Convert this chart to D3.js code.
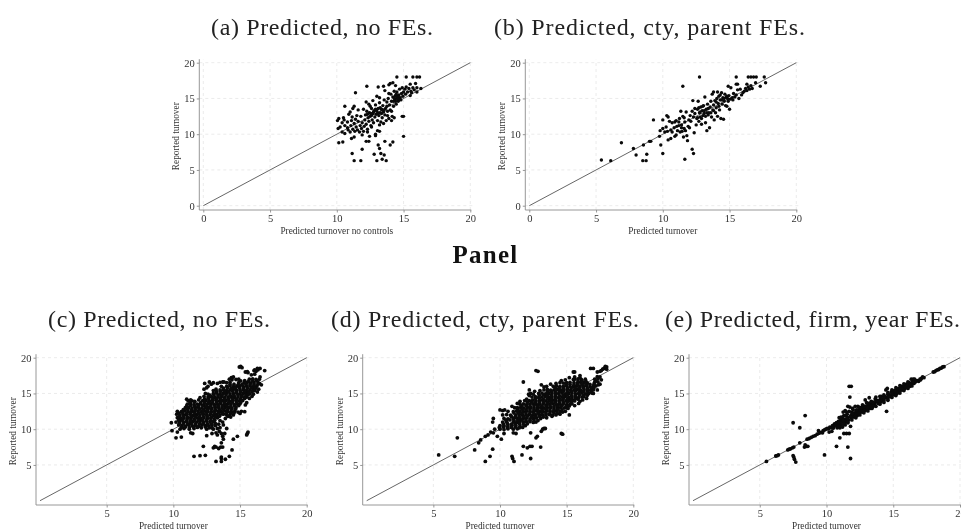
<!DOCTYPE html>
<html>
<head>
<meta charset="utf-8">
<script src="https://cdn.jsdelivr.net/npm/d3@7"></script>
<style>
  html, body { margin: 0; padding: 0; background: #fff; }
  svg { display: block; }
  text { font-family: "Liberation Serif", serif; }
</style>
</head>
<body>
<div id="chart"></div>
<script>
const width = 961, height = 530

// values, [predicted, reported]
const pointsA = [
  [11.3,6.3],[11.8,6.3],[13,6.3],[13.4,6.5],[13.7,6.3],[11.15,7.3],[11.9,7.9],[12.8,7.2],[13.3,7.3],[13.55,7.1],
  [13.1,8.5],[13.2,8],[14,8.5],[14.2,8.9],[13.6,9],[12.9,9.8],[12.4,9],[12.45,9.7],[12.2,9],[10.15,8.8],[10.45,8.9],
  [11.1,9.4],[11.3,9.6],[15,9.7],[13.05,10.5],[13.2,10.4],[12.9,10],[10.4,10.3],[10.6,10.1],[10.1,10.8],[10.25,11],
  [10.05,11.9],[10.15,12.2],[10.4,11.6],[10.5,12.3],[10.55,12],[10.6,11.2],[10.8,10.9],[10.8,11.7],[10.85,10.6],
  [11,10.3],[11.05,11.2],[11.1,11.9],[11.15,12.4],[11.2,10.7],[11.3,11.5],[11.35,10.4],[11.4,12.1],[11.45,11],
  [11.5,12.6],[11.55,10.6],[11.6,11.8],[11.7,10.3],[11.75,11.2],[11.8,12.5],[11.85,10.8],[11.9,11.6],[12,10.4],
  [12.05,11.1],[12.1,12],[12.15,12.7],[12.2,11.4],[12.25,13.2],[12.3,10.7],[12.35,12.3],[12.4,11.8],[12.45,13],
  [12.5,12.5],[12.55,11.2],[12.6,13.6],[12.65,12],[12.7,12.9],[12.75,11.6],[12.8,13.3],[12.85,12.4],[12.9,14.1],
  [12.95,12.8],[13,13.2],[13.05,11.9],[13.1,13.6],[13.15,12.6],[13.2,14.4],[13.25,13],[13.3,11.7],[13.35,13.5],
  [13.4,12.3],[13.45,14],[13.5,13.1],[13.55,14.8],[13.6,12.7],[13.65,13.6],[13.7,11.9],[13.75,14.5],[13.8,13.2],
  [13.85,15],[13.9,12.2],[13.95,14.1],[14,13.4],[14.05,15.6],[14.1,14.6],[14.15,12.5],[14.2,15.2],[14.25,13.9],
  [14.3,16],[14.35,14.9],[14.4,15.4],[14.45,14.2],[14.5,15.9],[14.55,15],[14.6,14.6],[14.65,15.5],[14.7,16.3],
  [14.75,15.1],[14.8,14.8],[14.85,15.7],[14.9,16.5],[14.95,15.3],[15,15.9],[15.1,16.3],[15.15,15.6],[15.2,16.6],
  [15.3,15.9],[15.4,16.4],[15.5,15.4],[15.55,16],[15.6,15.8],[15.7,16.5],[15.8,16.2],[16,15.9],[10.6,13.9],[11.4,15.8],
  [12.25,16.7],[13.1,16.6],[13.5,16.7],[13.9,16.9],[14,17.1],[14.2,17.2],[14.4,16.8],[14.5,18],[15.2,18],[15.7,18],
  [16,18],[16.2,18],[15.5,17],[15.9,17.1],[16,16.5],[16.3,16.4],[15,12.5],[14.9,12.5],[11,13.1],[11.2,13.6],[11.3,13.9],
  [11.6,13.4],[12,13.5],[12.2,14.5],[12.4,14.2],[12.5,13.9],[12.7,14.7],[13,15.3],[13.2,15.1],[13.6,16.1],[13.9,15.7],
  [14.1,13.2],[14.3,12.3],[14.1,11.9],[13.8,12.6],[13.5,11.5],[13.2,11.3],[12.6,11],[12.3,10.3],[11.9,9.9],[10.9,12.8],
  [13.4,13.4],[13.1,12.9],[12.9,13.5],[12.6,12.6],[12.3,12.8],[14.4,14.6],[14.6,15.3],[14.3,15.1],[14.7,14.9],
  [12.75,13.1],[12.95,13.4],[13.25,13.7],[13.35,12.9],[13.55,13.4],[12.55,12.9],[14.5,15.2],[14.25,14.6],[14.6,14.9],[14.45,15.6],[13.75,13.9]
]

const pointsB = [
  [5.4,6.4],[6.1,6.3],[6.9,8.8],[7.8,8],[8,7.1],[8.5,6.3],[8.75,6.3],[8.55,8.5],[8.8,7.2],[9,9],[9.1,9],[9.3,12],
  [9.75,9.7],[9.85,8.5],[10,7.3],[10.4,9.2],[11.65,6.5],[12.2,7.9],[12.3,7.3],[11.5,16.7],[12.75,18],[15.5,18],
  [16.4,18],[16.6,18],[16.8,18],[17.6,18],[17.7,17.2],[17,18],[17.3,16.7],[16.95,17.2],[16.3,17],[15.5,17],
  [14.9,16.7],[15.6,17],[10,10.8],[10.15,10.3],[10.25,11],[10.3,12.6],[10.35,10.4],[10.4,12.4],[10.5,11.8],[10.6,10.6],
  [10.7,11.6],[10.85,10.9],[10.9,11.7],[11,9.9],[11.05,11.1],[11.1,10.5],[11.2,11.2],[11.25,12.2],[11.3,10.3],[11.35,13.2],
  [11.4,11.3],[11.45,10.4],[11.5,12.5],[11.55,9.6],[11.6,10.8],[11.65,11.7],[11.7,10.5],[11.75,13.1],[11.8,9.8],[11.85,9.1],
  [11.9,11.1],[11.95,12],[12,10.9],[12.05,12.6],[12.1,11.8],[12.2,13.2],[12.25,14.7],[12.3,12.4],[12.35,10.2],[12.4,12.9],
  [12.5,11.3],[12.55,12.2],[12.6,13.5],[12.65,14.6],[12.7,11.8],[12.75,13],[12.8,12.4],[12.85,13.8],[12.9,11.4],[12.95,13.3],
  [13,12.6],[13.05,14],[13.1,12.9],[13.15,15.2],[13.2,11.6],[13.25,13.5],[13.3,10.5],[13.35,14.2],[13.4,12.7],[13.45,13],
  [13.5,10.9],[13.55,13.8],[13.6,14.6],[13.65,12.4],[13.7,15.6],[13.75,13.4],[13.8,14.1],[13.85,12],[13.9,14.7],[13.95,13],
  [14,13.7],[14.05,15],[14.1,12.5],[14.15,14.3],[14.2,15.3],[14.25,13.4],[14.3,14.8],[14.35,12.2],[14.4,15.8],[14.45,14.2],
  [14.5,15.1],[14.55,12.1],[14.6,14.6],[14.65,15.6],[14.7,14],[14.75,15.2],[14.8,13.9],[14.85,15],[14.9,14.6],[14.95,15.4],
  [15,13.5],[15.05,14.9],[15.1,16.5],[15.2,15.1],[15.25,14.8],[15.3,15.7],[15.4,15.2],[15.5,15.5],[15.6,16.2],[15.7,15],
  [15.8,16.3],[15.9,15.5],[16,15.8],[16.1,16],[16.2,16.4],[16.3,16.1],[16.4,16.6],[16.5,16.3],[16.6,16.8],[16.7,16.4],
  [12.4,13.6],[12.6,12.3],[12.8,13.1],[13,13.9],[13.2,12.5],[13.4,13.6],[13.6,13],[13.8,13.3],[14,14.5],[14.2,13.9],
  [14.4,14.8],[14.6,15],[14.8,15.3],[12.7,13.7],[12.9,12.2],[13.1,13.3],[13.3,13],[14.3,15.5],[14.1,15.9],[13.8,15.9],
  [11,11.9],[11.4,10.9],[11.2,11.7],[11.6,12.3],[10.7,10.3],[10,12],[9.8,10.5],[10.6,9.4],[10.9,9.7]
]

const pointsC = [
  [11.55,6.2],[12,6.3],[12.4,6.35],[13.2,5.5],[13.6,5.5],[13.6,5.9],[13.6,6.1],[13.9,5.8],[14.2,6.2],[14.4,7.1],
  [12.25,7.6],[13,7.4],[13.1,7.6],[13.2,7.5],[13.4,7.3],[13.55,7.5],[13.7,7.5],[13.6,8.1],[13.75,8.6],[14.5,8.6],
  [14.8,9],[15.5,9.2],[15.55,9.4],[15.6,9.6],[10.2,8.8],[10.6,8.9],[12.5,9.1],[12.9,9.4],[13.2,9.5],[13.3,9.2],
  [13.45,9.7],[13.6,9.4],[13.7,9],[13.85,9.4],[11.3,9.5],[11.45,9.4],[9.9,9.8],[10.3,9.6],[9.85,10.9],
  [10.2,11],[10.5,10],[10.8,10.1],[11.2,10],[11.55,10.1],[12.5,10],[13,10],[13.3,10.1],[13.5,10.2],[13.75,10.6],[14,10.1],
  [10.4,10.6],[10.65,10.5],[10.9,10.4],[11.15,10.6],[11.4,10.5],[11.65,10.55],[11.9,10.4],[12.15,10.6],[12.4,10.5],[12.65,10.45],[12.9,10.6],[13.4,10.7],
  [10.5,11.1],[10.75,11],[11,11.05],[11.25,10.95],[11.5,11.1],[11.75,11],[12,11.05],[12.25,11],[12.5,11.1],[12.75,11],[13,11.05],
  [10.3,11.6],[10.55,11.5],[10.8,11.55],[11.05,11.5],[11.3,11.6],[11.55,11.45],[11.8,11.55],[12.05,11.5],[12.3,11.6],[12.55,11.5],[12.8,11.55],[13.05,11.45],[13.3,11.6],
  [10.25,12.1],[10.5,12],[10.75,12.05],[11,12],[11.25,12.1],[11.5,11.95],[11.75,12.05],[12,12],[12.25,12.1],[12.5,12],[12.75,12.05],[13,11.95],[13.25,12.05],[13.5,12],[13.75,12.1],[14,12],[14.25,12.05],[14.5,12],
  [10.3,12.5],[10.6,12.45],[10.85,12.55],[11.1,12.5],[11.35,12.45],[11.6,12.55],[11.85,12.5],[12.1,12.45],[12.35,12.55],[12.6,12.5],[12.85,12.45],[13.1,12.55],[13.35,12.5],[13.6,12.45],[13.85,12.55],[14.1,12.5],[14.35,12.4],[14.6,12.5],[14.85,12.4],[15.1,12.5],[15.35,12.45],
  [10.9,13],[11.15,13],[11.4,12.95],[11.65,13.05],[11.9,13],[12.15,12.95],[12.4,13.05],[12.65,13],[12.9,12.95],[13.15,13.05],[13.4,13],[13.65,12.95],[13.9,13.05],[14.15,13],[14.4,12.95],[14.7,13],
  [11.05,13.5],[11.3,13.55],[11.55,13.45],[11.8,13.5],[12.05,13.55],[12.3,13.45],[12.55,13.5],[12.8,13.55],[13.05,13.45],[13.3,13.5],[13.55,13.55],[13.8,13.45],[14.05,13.5],[14.3,13.55],[14.55,13.45],[14.8,13.5],[15,13.55],
  [11.1,14],[11.4,13.95],[12.2,14],[12.45,14.05],[12.7,13.95],[12.95,14],[13.2,14.05],[13.45,13.95],[13.7,14],[13.95,14.05],[14.2,13.95],[14.45,14],[14.7,14.05],[14.95,13.95],[15.2,14],
  [12.6,14.5],[12.85,14.55],[13.1,14.45],[13.35,14.5],[13.6,14.55],[13.85,14.45],[14.1,14.5],[14.35,14.55],[14.6,14.45],[14.85,14.5],[15.1,14.55],[15.35,14.45],[15.5,14.5],
  [12.4,15],[12.3,15.6],[12.5,15.8],[12.6,16],[12.85,16.3],[13,15],[13.25,15.05],[13.5,14.95],[13.75,15],[14,15.05],[14.25,14.95],[14.5,15],[14.75,15.05],[15,14.95],[15.25,15],[15.5,15.05],[15.75,14.95],
  [13.5,15.5],[13.75,15.55],[14,15.45],[14.25,15.5],[14.5,15.55],[14.75,15.45],[15,15.5],[15.25,15.55],[15.5,15.45],[15.75,15.5],[16,15.55],[16.1,15.4],
  [14,16],[14.25,16.05],[14.5,15.95],[14.75,16],[15,16.05],[15.25,15.95],[15.5,16],[15.75,16.05],[16,15.95],[16.25,16],
  [13,16.5],[13.3,16.4],[13.5,16.55],[13.7,16.6],[14,16.5],[14.25,16.55],[14.9,16.5],[15.3,16.5],[15.55,16.55],[15.8,16.45],[16.05,16.5],[16.35,16.5],
  [14.2,17],[14.35,17.2],[14.5,17.3],[14.7,16.95],[14.9,17],[15.7,17],[15.95,17.05],[16.2,16.95],[16.5,17.3],[16.45,17],
  [15.4,18],[15.55,18.05],[15.6,17.9],[16.05,18.2],[16.2,18.1],[16.35,18.3],[16.5,18.5],[16.85,18.2],[16.3,18.5],[16.1,18.3],
  [14.95,18.7],[15.05,18.8],[15.15,18.6],[12.35,16.4],[12.7,16.6],[15.85,17.6],[16.1,17.7]
]

// the solid middle of the cloud in panel c
const pointsCCore = [
  [10.6,10.25],[10.9,10.3],[11.2,10.2],[11.5,10.3],[11.8,10.25],[12.1,10.2],[12.4,10.3],[12.7,10.2],
  [10.45,10.8],[10.75,10.75],[11.05,10.7],[11.35,10.8],[11.65,10.75],[11.95,10.7],[12.25,10.8],[12.55,10.75],[12.85,10.7],[13.15,10.8],
  [10.4,11.25],[10.7,11.3],[11,11.2],[11.3,11.25],[11.6,11.3],[11.9,11.2],[12.2,11.25],[12.5,11.3],[12.8,11.2],[13.1,11.25],
  [10.45,11.75],[10.75,11.8],[11.05,11.7],[11.35,11.75],[11.65,11.8],[11.95,11.7],[12.25,11.75],[12.55,11.8],[12.85,11.7],[13.15,11.75],[13.45,11.8],
  [10.4,12.25],[10.7,12.3],[11,12.2],[11.3,12.25],[11.6,12.3],[11.9,12.2],[12.2,12.25],[12.5,12.3],[12.8,12.2],[13.1,12.25],[13.4,12.3],[13.7,12.2],[14,12.25],[14.3,12.3],[14.55,12.25],
  [10.75,12.75],[11.05,12.8],[11.35,12.7],[11.65,12.75],[11.95,12.8],[12.25,12.7],[12.55,12.75],[12.85,12.8],[13.15,12.7],[13.45,12.75],[13.75,12.8],[14.05,12.7],[14.35,12.75],[14.65,12.8],
  [11,13.25],[11.3,13.3],[11.6,13.2],[11.9,13.25],[12.2,13.3],[12.5,13.2],[12.8,13.25],[13.1,13.3],[13.4,13.2],[13.7,13.25],[14,13.3],[14.3,13.2],[14.6,13.25],[14.9,13.3],
  [11.25,13.75],[11.6,13.8],[12.05,13.7],[12.35,13.75],[12.65,13.8],[12.95,13.7],[13.25,13.75],[13.55,13.8],[13.85,13.7],[14.15,13.75],[14.45,13.8],[14.75,13.7],[15.05,13.75],
  [12.35,14.25],[12.65,14.3],[12.95,14.2],[13.25,14.25],[13.55,14.3],[13.85,14.2],[14.15,14.25],[14.45,14.3],[14.75,14.2],[15.05,14.25],[15.35,14.3],
  [12.75,14.75],[13.05,14.8],[13.35,14.7],[13.65,14.75],[13.95,14.8],[14.25,14.7],[14.55,14.75],[14.85,14.8],[15.15,14.7],[15.45,14.75],[15.6,14.8],
  [13.25,15.25],[13.55,15.3],[13.85,15.2],[14.15,15.25],[14.45,15.3],[14.75,15.2],[15.05,15.25],[15.35,15.3],[15.65,15.2],[15.9,15.25],
  [13.75,15.75],[14.05,15.8],[14.35,15.7],[14.65,15.75],[14.95,15.8],[15.25,15.7],[15.55,15.75],[15.85,15.8],[16.15,15.7],
  [14.25,16.25],[14.55,16.3],[14.85,16.2],[15.15,16.25],[15.45,16.3],[15.75,16.2],[16.05,16.25],[16.35,16.3],
  [15.05,16.75],[15.35,16.8],[15.65,16.7],[15.95,16.75],[16.25,16.8]
]

// ragged rim of the cloud in panel c
const pointsCRim = [
  [11,14.2],[11.6,13.9],[11.9,14.1],[12.3,14.6],[12.6,14.9],[13,15.4],[13.2,15.6],[13.6,16],[13.8,16.6],[14.4,16.9],
  [14.3,11.7],[13.9,11.5],[13.5,11.2],[13.7,11],[12.9,10.2],[15,12.2],[15.5,13.7],[15.7,14.3],[16,14.9],[16.4,15.6],[16.6,16.2],
  [12,14.4],[11.3,14.1],[13.15,10.5],[14.1,11.8],[15.4,13.4],[15.9,14.6],[16.3,15.2],[16.45,16.4]
]

const pointsD = [
  [5.4,6.4],[6.6,6.2],[6.8,8.8],[8.1,7.1],[8.4,8.1],[8.55,8.5],[8.9,5.5],[9.25,6.2],[9.45,7.2],[8.9,9],[9.1,9.2],[9.3,9.6],
  [9.8,9],[10.1,8.6],[10.9,6.2],[10.95,5.9],[11.05,5.5],[11.65,6.4],[12.3,5.9],[11.75,7.6],[12.05,7.4],[12.25,7.6],[12.4,7.6],
  [13.05,7.5],[12.7,8.8],[12.8,9],[12.3,9.5],[14.6,9.4],[14.7,9.3],[13.1,9.7],[13.2,10],[13.3,10.1],[13.4,10.1],[12.7,18.2],
  [12.85,18.1],[11.75,16.6],[13.1,16.2],[15.5,18],[15.6,18],[16.8,18.5],[17,18.5],[17.3,18],[17.6,18.2],[17.8,18.5],[18,18.7],[18,18.4],[17.9,18.8],[17.7,18.4],[17.5,18.1],
  [9.5,9.5],[10.3,9.4],[11,9.5],[11.2,9.4],[9.6,10],[10,10],[10.3,9.95],[10.6,10.05],[11,10],[11.3,10.05],
  [10,10.5],[10.3,10.5],[10.6,10.45],[10.9,10.55],[11.2,10.5],[11.5,10.45],[11.9,10.5],[9.45,11],[10.2,11],[10.5,11.05],[11,11],[11.25,10.95],[11.5,11.05],[11.75,11],[12,11],[12.25,11.05],[12.5,10.95],[12.7,11],
  [9.5,11.5],[10.3,11.5],[10.6,11.45],[11,11.5],[11.25,11.55],[11.5,11.45],[11.75,11.5],[12,11.55],[12.25,11.45],[12.5,11.5],[12.75,11.55],[13.05,11.5],
  [10.2,12],[10.5,12.05],[10.8,11.95],[11.2,12],[11.45,12.05],[11.7,11.95],[11.95,12],[12.2,12.05],[12.45,11.95],[12.7,12],[12.95,12.05],[13.2,11.95],[13.45,12],[13.7,12.05],[13.95,11.95],[14.2,12],[15.2,12],
  [10.2,12.6],[10.6,12.5],[11,12.45],[11.25,12.55],[11.5,12.5],[11.75,12.45],[12,12.55],[12.25,12.5],[12.5,12.45],[12.75,12.55],[13,12.5],[13.25,12.45],[13.5,12.55],[13.75,12.5],[14,12.45],[14.25,12.55],[14.5,12.5],[14.7,12.4],
  [11.3,13],[11.55,13.05],[11.8,12.95],[12.05,13],[12.3,13.05],[12.55,12.95],[12.8,13],[13.05,13.05],[13.3,12.95],[13.55,13],[13.8,13.05],[14.05,12.95],[14.3,13],[14.55,13.05],[14.8,12.95],[15,13],
  [11.5,13.5],[11.75,13.55],[12,13.45],[12.25,13.5],[12.5,13.55],[12.75,13.45],[13,13.5],[13.25,13.55],[13.5,13.45],[13.75,13.5],[14,13.55],[14.25,13.45],[14.5,13.5],[14.75,13.55],[15,13.45],[15.25,13.5],[15.4,13.55],
  [12.2,14],[12.45,14.05],[12.7,13.95],[12.95,14],[13.2,14.05],[13.45,13.95],[13.7,14],[13.95,14.05],[14.2,13.95],[14.45,14],[14.7,14.05],[14.95,13.95],[15.2,14],[15.45,14.05],[15.6,13.95],
  [12.4,14.5],[12.65,14.55],[12.9,14.45],[13.15,14.5],[13.4,14.55],[13.65,14.45],[13.9,14.5],[14.15,14.55],[14.4,14.45],[14.65,14.5],[14.9,14.55],[15.15,14.45],[15.4,14.5],[15.65,14.55],[15.9,14.45],[16.15,14.5],[16.3,14.55],
  [12.3,15],[12.9,15],[13.15,15.05],[13.4,14.95],[13.65,15],[13.9,15.05],[14.15,14.95],[14.4,15],[14.65,15.05],[14.9,14.95],[15.15,15],[15.4,15.05],[15.65,14.95],[15.9,15],[16.15,15.05],[16.4,14.95],[16.65,15],[16.9,15.05],
  [13.3,15.5],[13.55,15.55],[13.8,15.45],[14.05,15.5],[14.3,15.55],[14.55,15.45],[14.8,15.5],[15.05,15.55],[15.3,15.45],[15.55,15.5],[15.8,15.55],[16.05,15.45],[16.3,15.5],[16.55,15.55],[16.8,15.45],[17,15.5],
  [14,16],[14.25,16.05],[14.5,15.95],[14.75,16],[15,16.05],[15.25,15.95],[15.5,16],[15.75,16.05],[16,15.95],[16.25,16],[16.5,16.05],[16.75,15.95],[17,16],[17.2,16.05],[17.4,16.2],
  [14.5,16.5],[14.75,16.45],[15,16.5],[15.25,16.55],[15.55,16.5],[15.8,16.45],[16.05,16.55],[16.3,16.5],[16.55,16.45],[17.1,16.55],[17.35,16.6],
  [15.6,17],[15.85,17.05],[16.1,16.95],[16.4,17],[17.1,17],[17.35,17.1],[17.5,17.3],[17.3,17.35],[16,17.2],[15.5,16.95],[12.2,15.5],[12.15,14.9]
]

// the solid middle of the cloud in panel d
const pointsDCore = [
  [9.95,10.25],[10.25,10.3],[10.55,10.2],[10.85,10.25],[11.15,10.3],[11.45,10.2],[11.7,10.25],
  [10.25,10.75],[10.55,10.8],[10.85,10.7],[11.15,10.75],[11.45,10.8],[11.75,10.7],[12.05,10.75],
  [10.45,11.25],[10.75,11.3],[11.05,11.2],[11.35,11.25],[11.65,11.3],[11.95,11.2],[12.25,11.25],[12.55,11.3],[12.85,11.2],
  [10.85,11.75],[11.15,11.8],[11.45,11.7],[11.75,11.75],[12.05,11.8],[12.35,11.7],[12.65,11.75],[12.95,11.8],[13.25,11.7],
  [11.05,12.25],[11.35,12.3],[11.65,12.2],[11.95,12.25],[12.25,12.3],[12.55,12.2],[12.85,12.25],[13.15,12.3],[13.45,12.2],[13.75,12.25],[14.05,12.3],[14.3,12.2],
  [11.35,12.75],[11.65,12.8],[11.95,12.7],[12.25,12.75],[12.55,12.8],[12.85,12.7],[13.15,12.75],[13.45,12.8],[13.75,12.7],[14.05,12.75],[14.35,12.8],[14.65,12.7],
  [11.65,13.25],[11.95,13.3],[12.25,13.2],[12.55,13.25],[12.85,13.3],[13.15,13.2],[13.45,13.25],[13.75,13.3],[14.05,13.2],[14.35,13.25],[14.65,13.3],[14.95,13.2],[15.2,13.25],
  [12.05,13.75],[12.35,13.8],[12.65,13.7],[12.95,13.75],[13.25,13.8],[13.55,13.7],[13.85,13.75],[14.15,13.8],[14.45,13.7],[14.75,13.75],[15.05,13.8],[15.35,13.7],
  [12.65,14.25],[12.95,14.3],[13.25,14.2],[13.55,14.25],[13.85,14.3],[14.15,14.2],[14.45,14.25],[14.75,14.3],[15.05,14.2],[15.35,14.25],[15.65,14.3],[15.85,14.2],
  [12.95,14.75],[13.25,14.8],[13.55,14.7],[13.85,14.75],[14.15,14.8],[14.45,14.7],[14.75,14.75],[15.05,14.8],[15.35,14.7],[15.65,14.75],[15.95,14.8],[16.25,14.7],[16.55,14.75],
  [13.55,15.25],[13.85,15.3],[14.15,15.2],[14.45,15.25],[14.75,15.3],[15.05,15.2],[15.35,15.25],[15.65,15.3],[15.95,15.2],[16.25,15.25],[16.55,15.3],[16.85,15.2],
  [14.15,15.75],[14.45,15.8],[14.75,15.7],[15.05,15.75],[15.35,15.8],[15.65,15.7],[15.95,15.75],[16.25,15.8],[16.55,15.7],[16.85,15.75],[17.05,15.8],
  [14.95,16.25],[15.25,16.3],[15.55,16.2],[15.85,16.25],[16.15,16.3],[16.45,16.2],[16.75,16.25],[17.05,16.3],
  [15.85,16.75],[16.15,16.8],[16.45,16.7],[17.2,16.75]
]

// ragged rim of the cloud in panel d
const pointsDRim = [
  [10,12.7],[10.35,12.7],[10.9,13.2],[11.3,13.6],[11.5,13.9],[12,14.2],[12.2,14.7],[12.6,15.3],[13,15.4],[13.3,15.9],[13.8,16.3],[14.2,16.4],[14.6,16.8],[15.2,17.2],[15.6,17.3],[16,17.5],
  [13.5,11.6],[13.9,11.8],[14.5,12.1],[15.1,12.9],[15.6,13.3],[16,13.9],[16.5,14.3],[17,15],[17.3,15.5],[17.5,16.3],[17.6,16.9],
  [11.1,13],[11.85,14],[12.5,14.9],[13.5,16],[14.9,16.9],[16.2,14.1],[15.9,13.6],[14.9,12.5]
]

const pointsE = [
  [5.5,5.5],[6.2,6.25],[6.3,6.3],[6.4,6.4],[7.1,7.1],[7.2,7.2],[7.3,7.25],[7.45,7.4],[7.55,7.5],[8,8.1],[8.55,8.6],[8.7,8.7],[8.85,8.85],[9,9],[9.15,9.1],[9.3,9.3],
  [8.4,11.9],[7.5,10.9],[8,10.2],[7.55,6.1],[7.6,5.8],[7.7,5.4],[7.5,6.3],[9.85,6.4],[10.75,7.6],[11.6,7.5],[11.8,5.9],[11,8.8],[11.3,9.4],[11.5,9.4],[11.7,9.4],
  [11.8,10.4],[11.7,16],[11.85,16],[11.75,14.5],[14.5,12.5],[8.35,7.5],[8.5,7.6],[8.6,7.6],[8.4,7.8],[9.4,9.8],[9.7,9.5],[10.2,9.6],[10.4,9.7],
  [9.45,9.45],[9.6,9.55],[9.75,9.8],[9.85,9.9],[9.95,10],[10.05,10.1],[10.15,10.05],[10.25,10.3],[10.35,10.2],[10.45,10.5],[10.55,10.4],[10.6,10.75],[10.7,10.6],[10.75,10.9],[10.85,10.7],[10.9,11.1],[11,10.8],[11.05,11.2],[11.1,10.6],[11.15,11],[11.2,11.5],[11.3,11.1],[11.35,10.8],[11.4,11.4],[11.45,11.9],[11.5,11.2],[11.55,12.1],[11.6,11.6],[11.65,11.3],[11.7,12.5],[11.75,13.1],[11.8,11.8],[11.85,12],[11.9,12.4],[11.95,12.9],[12,12],[12.05,11.7],[12.1,12.2],[12.15,13.2],[12.2,12.4],[12.25,12],[12.3,12.6],[12.35,13.2],[12.4,12.3],[12.45,12.7],[12.5,12.5],[12.6,12.8],[12.65,12.4],[12.7,13.1],[12.8,12.8],[12.85,12.6],[12.9,13.2],[13,13],[13.05,12.7],[13.1,13.4],[13.2,13.2],[13.25,12.9],[13.3,13.5],[13.4,13.4],[13.45,13.1],[13.5,13.8],[13.6,13.6],[13.65,13.3],[13.7,14.1],[13.8,13.8],[13.9,13.6],[14,14.1],[14.05,13.8],[14.1,14.6],[14.2,14.2],[14.3,14],[14.4,14.4],[14.45,15.5],[14.5,14.5],[14.55,15.7],[14.6,14.3],[14.7,14.8],[14.8,14.6],[14.85,15.2],[14.95,14.9],[15,15.3],[15.05,14.8],[15.1,15.1],[15.2,15.5],[15.25,15],[15.3,15.3],[15.4,15.7],[15.45,15.2],[15.5,15.5],[15.6,16],[15.65,15.5],[15.7,15.8],[15.8,16.1],[15.85,15.7],[15.95,16],[16,16.3],[16.1,16.1],[16.2,16.5],[16.25,16],[16.35,17],[16.4,16.4],[16.5,17],[16.55,16.4],[16.65,16.6],[16.8,16.8],[16.9,16.7],[17,17],[17.1,17.1],[17.2,17.3],[17.3,17.2],
  [18,18],[18.1,18.05],[18.2,18.2],[18.3,18.3],[18.4,18.35],[18.5,18.5],[18.6,18.55],[18.7,18.7],[18.8,18.75],
  [10.8,10.2],[11,10.2],[11.2,10.3],[11.4,10.6],[11.6,10.9],[11.1,11.7],[11.25,12.4],[10.95,11.6],[11.4,12.6],[11.6,13.2],[12.3,11.9],[12.9,14.1],[13.2,14.4],[13.7,14.5],
  [10.65,10.5],[10.95,10.95],[11.25,11.3],[11.55,11.5],[11.85,11.65],[12.15,11.9],[12.45,12.15],[12.75,12.45],[13.05,13],[13.35,13.15],[13.55,13.3],[13.85,13.95],[14.15,14.05],[14.35,14.6],[14.65,14.6],[14.9,15.1],[15.15,15.3],[15.35,15.1],[15.6,15.5],[15.9,15.8],[16.15,16.3],[16.45,16.65],[16.7,16.8],[17.05,16.9],
  [11.95,12.2],[12.25,12.7],[12.55,13],[12.85,13.2],[13.15,13.6],[13.45,13.7],[13.75,14],[14.05,14.4],[14.3,14.3],[14.6,14.9],[15.1,15.4],[15.55,15.8],[15.75,15.6],[16.05,16],[16.3,16.2]
]

// band around the line in panel e, thicker than a single row of dots
const pointsEBand = [
  [10.5,10.15],[10.9,10.45],[11.3,10.7],[11.6,11],[11.9,11.3],[12.2,11.6],[12.5,12],[12.8,12.3],[13.1,12.55],[13.4,12.9],[13.7,13.2],[14,13.5],[14.3,13.75],[14.6,14.05],[14.9,14.45],[15.2,14.7],[15.5,15.05],[15.8,15.4],[16.1,15.7],[16.4,16.05],
  [11.05,11.6],[11.3,11.9],[11.5,12.4],[12,12.7],[12.4,13.1],[12.7,13.4],[13,13.7],[13.35,13.9],[13.65,14.25],[14,14.6],[14.3,14.8],[14.6,15.15],[14.9,15.5],[15.2,15.8],[15.5,16.1],[15.8,16.35],[16.1,16.6],[16.6,17]
]

const tickLabelsAll = [0, 5, 10, 15, 20]
const tickLabelsNoZero = [5, 10, 15, 20]

const titleA = '(a) Predicted, no FEs.'
const titleB = '(b) Predicted, cty, parent FEs.'
const titleC = '(c) Predicted, no FEs.'
const titleD = '(d) Predicted, cty, parent FEs.'
const titleE = '(e) Predicted, firm, year FEs.'
const panelWord = 'Panel'
const yLabel = 'Reported turnover'
const xLabelA = 'Predicted turnover no controls'
const xLabelRest = 'Predicted turnover'

const svg = d3.select('#chart').append('svg')
    .attr('width', width)
    .attr('height', height)

const figure = svg.append('g').style('filter', 'blur(0.35px)')

function drawPanel({points, ticks, xLabel, x0, x20, y0, y20, r}){
    const x = d3.scaleLinear().domain([0, 20]).range([x0, x20])
    const y = d3.scaleLinear().domain([0, 20]).range([y0, y20])
    const left = x0 - 4, bottom = y0 + 4.3

    const g = figure.append('g')

    // dashed grid
    g.append('g').selectAll('line').data(ticks).enter().append('line')
        .attr('x1', d => x(d)).attr('x2', d => x(d))
        .attr('y1', bottom).attr('y2', y20 - 3)
        .attr('stroke', '#e6e6e6').attr('stroke-width', 0.8).attr('stroke-dasharray', '3,3')
    g.append('g').selectAll('line').data(ticks).enter().append('line')
        .attr('y1', d => y(d)).attr('y2', d => y(d))
        .attr('x1', left).attr('x2', x20 + 2)
        .attr('stroke', '#e6e6e6').attr('stroke-width', 0.8).attr('stroke-dasharray', '3,3')

    const xAxis = g.append('g')
        .attr('transform', `translate(0,${bottom})`)
        .call(d3.axisBottom(x).tickValues(ticks).tickSize(2.5).tickPadding(2.5))
    const yAxis = g.append('g')
        .attr('transform', `translate(${left},0)`)
        .call(d3.axisLeft(y).tickValues(ticks).tickSize(2.5).tickPadding(2))

    // stretch axis lines out to the plot corners
    xAxis.select('.domain').attr('d', `M${left},0H${x20 + 1}`)
    yAxis.select('.domain').attr('d', `M0,${bottom}V${y20 - 3.5}`)

    for(const axis of [xAxis, yAxis]){
        axis.selectAll('.domain, .tick line').attr('stroke', '#8c8c8c').attr('stroke-width', 0.9)
        axis.selectAll('text')
            .style('font-family', '"Liberation Serif", serif')
            .style('font-size', '10.5px')
            .attr('fill', '#333')
    }

    g.append('line')
        .attr('x1', x(0)).attr('y1', y(0))
        .attr('x2', x(20)).attr('y2', y(20))
        .attr('stroke', '#555').attr('stroke-width', 0.9)

    g.append('g').selectAll('circle')
        .data(points)
        .enter()
        .append('circle')
        .attr('cx', d => x(d[0]))
        .attr('cy', d => y(d[1]))
        .attr('r', r)
        .attr('fill', '#0a0a0a')

    g.append('text')
        .attr('x', (x0 + x20) / 2)
        .attr('y', bottom + 23.5)
        .attr('text-anchor', 'middle')
        .attr('font-size', 9.3)
        .attr('fill', '#333')
        .text(xLabel)

    g.append('text')
        .attr('transform', `translate(${left - 20},${(y0 + y20) / 2 + 2}) rotate(-90)`)
        .attr('text-anchor', 'middle')
        .attr('font-size', 9.3)
        .attr('fill', '#333')
        .text(yLabel)
}

const topY0 = 205.7, topY20 = 62.7, lowY0 = 500.7, lowY20 = 357.7

drawPanel({points: pointsA, ticks: tickLabelsAll, xLabel: xLabelA, x0: 203.3, x20: 470.3, y0: topY0, y20: topY20, r: 1.7})
drawPanel({points: pointsB, ticks: tickLabelsAll, xLabel: xLabelRest, x0: 529.3, x20: 796.3, y0: topY0, y20: topY20, r: 1.7})
drawPanel({points: pointsC.concat(pointsCCore, pointsCRim), ticks: tickLabelsNoZero, xLabel: xLabelRest, x0: 40, x20: 306.7, y0: lowY0, y20: lowY20, r: 1.9})
drawPanel({points: pointsD.concat(pointsDCore, pointsDRim), ticks: tickLabelsNoZero, xLabel: xLabelRest, x0: 366.7, x20: 633.3, y0: lowY0, y20: lowY20, r: 1.9})
drawPanel({points: pointsE.concat(pointsEBand), ticks: tickLabelsNoZero, xLabel: xLabelRest, x0: 693, x20: 960, y0: lowY0, y20: lowY20, r: 1.9})

function drawTitle(label, start, end, baseline){
    figure.append('text')
        .attr('x', start)
        .attr('y', baseline)
        .attr('textLength', end - start)
        .attr('lengthAdjust', 'spacing')
        .attr('font-size', 24)
        .attr('fill', '#222')
        .text(label)
}

drawTitle(titleA, 211, 433, 35)
drawTitle(titleB, 494, 805, 35)
drawTitle(titleC, 48, 270, 327)
drawTitle(titleD, 331, 639, 327)
drawTitle(titleE, 665, 960, 327)

figure.append('text')
    .attr('x', 485.5)
    .attr('y', 263)
    .attr('text-anchor', 'middle')
    .attr('font-size', 25)
    .attr('font-weight', 'bold')
    .attr('letter-spacing', 1.3)
    .attr('fill', '#111')
    .text(panelWord)
</script>
</body>
</html>
